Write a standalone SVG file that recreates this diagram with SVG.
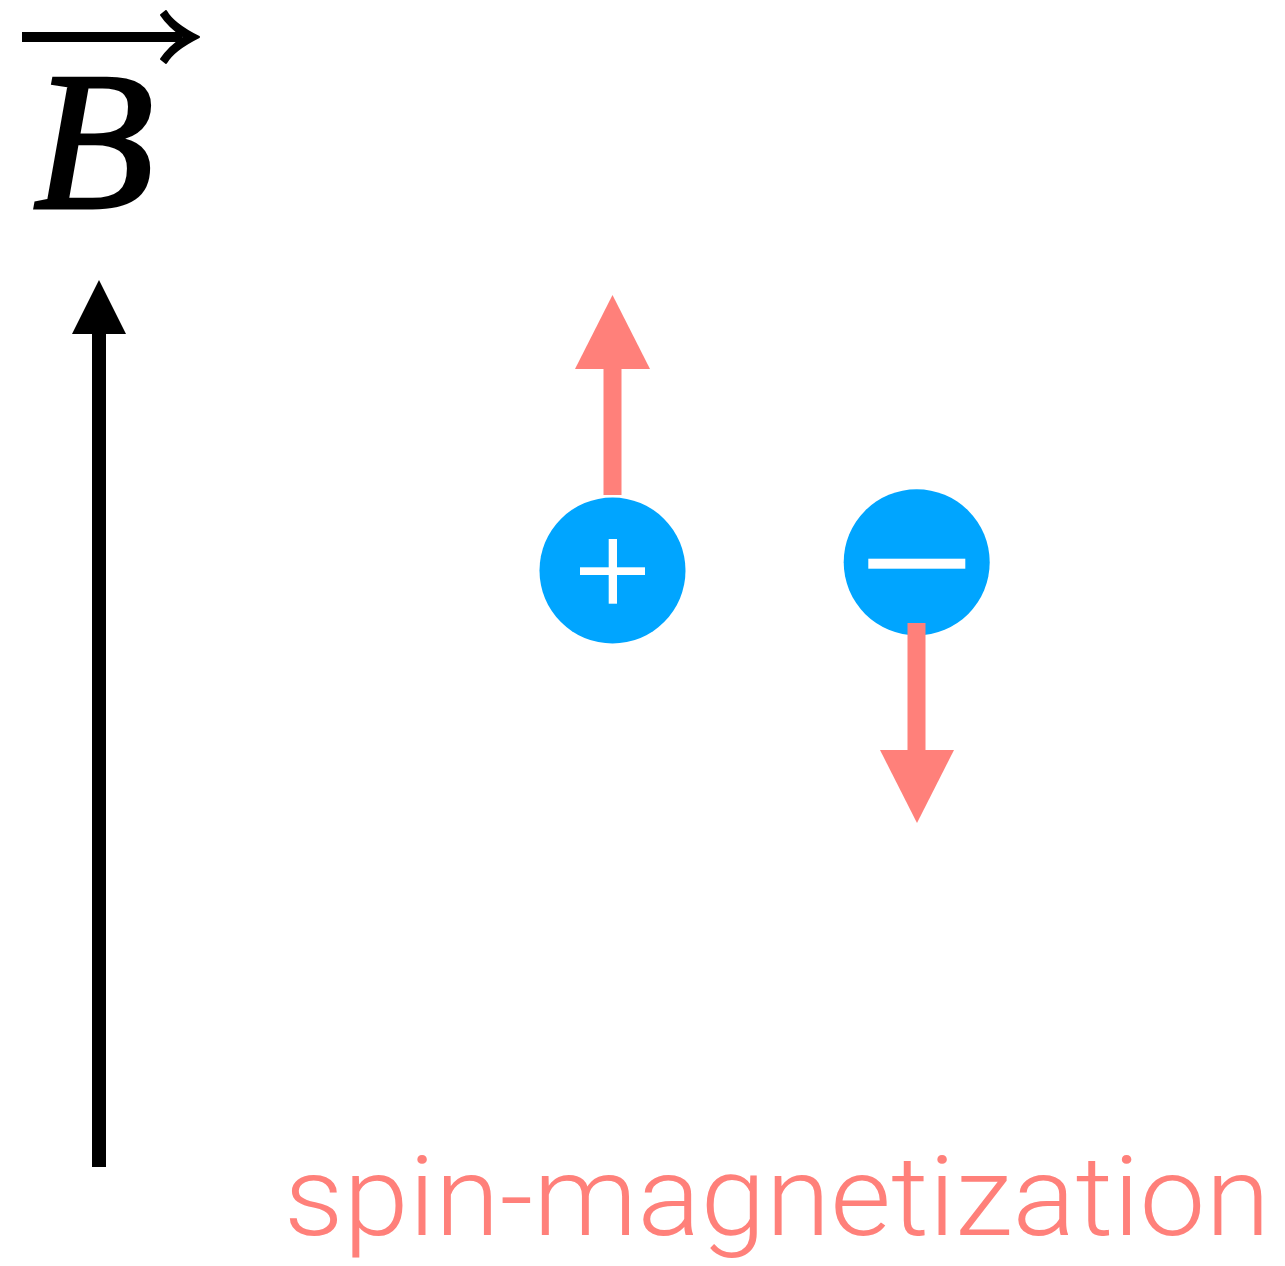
<svg xmlns="http://www.w3.org/2000/svg" width="1285" height="1266" viewBox="0 0 1285 1266">
<style>
.pink{fill:#FF807A}
.charge{fill:#00A5FF}
.sign{fill:#FFFFFF}
</style>
<rect width="1285" height="1266" fill="#FFFFFF"/>
<g id="B-label">
<path d="M22 32 H182 V42 H22 Z" fill="#000"/>
<path d="M199 37 C185 30 172 22 166 11 L161 15 C167 24 175 31 184 37 C175 43 167 50 161 59 L166 63 C172 52 185 44 199 37 Z" fill="#000" stroke="#000" stroke-width="2" stroke-linejoin="round"/>
<text x="33" y="208" font-family="Liberation Serif, serif" font-style="italic" font-size="198" fill="#000" stroke="#000" stroke-width="3">B</text>
</g>
<g id="plus">
<circle class="charge" cx="612.5" cy="570.5" r="73"/>
<rect class="sign" x="580" y="567.3" width="65" height="7.7"/>
<rect class="sign" x="608.7" y="539" width="8.3" height="64.7"/>
</g>
<g id="minus">
<circle class="charge" cx="916.7" cy="562.3" r="73"/>
<rect class="sign" x="868.3" y="558.7" width="97" height="10"/>
</g>
<g id="connectors">
<line x1="99" y1="1167" x2="99" y2="330" stroke="#000" stroke-width="14"/>
<polygon points="99,280 126,334 72,334" fill="#000"/>
<rect class="pink" x="603.5" y="366" width="18" height="129"/>
<polygon class="pink" points="612.5,295 650,369 575,369"/>
<rect class="pink" x="907.5" y="623" width="18" height="129"/>
<polygon class="pink" points="917,823 954,750 880,750"/>
</g>
<g id="caption">
<text x="284" y="1235" font-family="Roboto, Liberation Sans, sans-serif" font-weight="300" font-size="112" class="pink" textLength="986" lengthAdjust="spacingAndGlyphs">spin-magnetization</text>
</g>
</svg>
